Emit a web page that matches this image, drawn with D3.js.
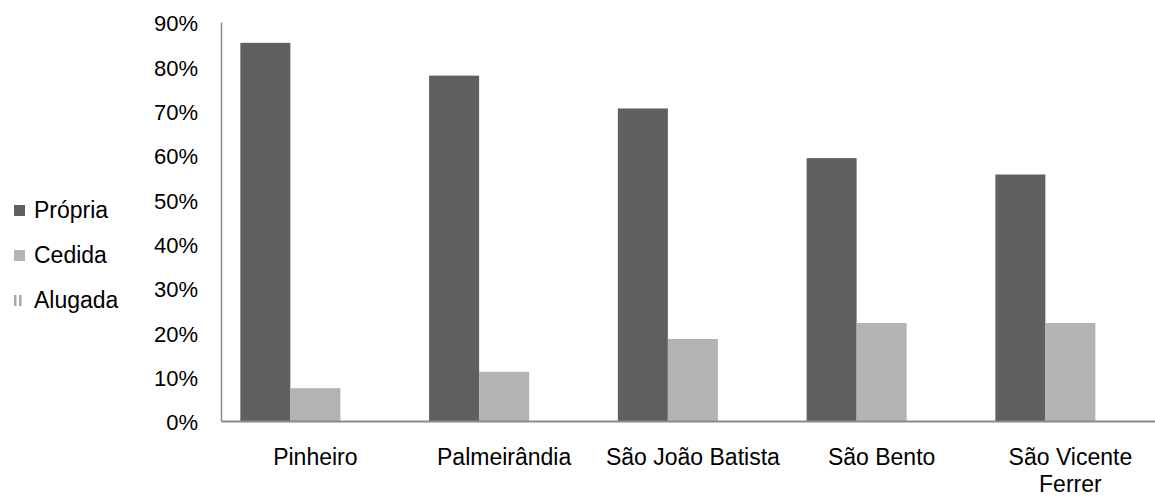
<!DOCTYPE html>
<html>
<head>
<meta charset="utf-8">
<script src="https://cdn.jsdelivr.net/npm/d3@7"></script>
<style>
  html, body { margin: 0; padding: 0; background: #fff; }
  svg { display: block; }
  text { font-family: "Liberation Sans", Arial, sans-serif; fill: #000; }
</style>
</head>
<body>
<svg id="chart" width="1155" height="498"></svg>
<script>
const categories = ["Pinheiro", "Palmeirândia", "São João Batista", "São Bento", "São Vicente Ferrer"];
const seriesNames = ["Própria", "Cedida", "Alugada"];
const propria = [0.853, 0.779, 0.705, 0.593, 0.556];
const cedida  = [0.074, 0.111, 0.185, 0.221, 0.221];
const alugada = [0, 0, 0, 0, 0];
const yTicks = [0, 0.1, 0.2, 0.3, 0.4, 0.5, 0.6, 0.7, 0.8, 0.9];
const colors = ["#606060", "#b3b3b3", "#d0d0d0"];

const seriesValues = [propria, cedida, alugada];
const data = categories.map((c, i) => ({
  cat: c,
  values: seriesNames.map((s, j) => ({ key: s, value: seriesValues[j][i], idx: j }))
}));

const svg = d3.select("#chart");
const x0 = 221, yTop = 22, yBase = 421;
const fs = 23;

const x = d3.scaleBand().domain(categories)
  .range([x0, x0 + 943.75]).paddingInner(0.205).paddingOuter(0.1025);
const xs = d3.scaleBand().domain(seriesNames).range([0, x.bandwidth()]);
const y = d3.scaleLinear().domain([0, 0.9]).range([yBase, yTop]);

// bars
const groups = svg.append("g").selectAll("g").data(data).join("g")
  .attr("transform", d => `translate(${x(d.cat)},0)`);
groups.selectAll("rect").data(d => d.values.filter(v => v.value > 0)).join("rect")
  .attr("x", v => xs(v.key))
  .attr("width", xs.bandwidth())
  .attr("y", v => y(v.value))
  .attr("height", v => yBase - y(v.value))
  .attr("fill", v => colors[v.idx]);

// y axis
const yAxis = d3.axisLeft(y).tickValues(yTicks).tickSize(0).tickPadding(23)
  .tickFormat(d3.format(".0%"));
const gy = svg.append("g").attr("transform", `translate(${x0},0)`).call(yAxis);
gy.select(".domain").attr("stroke", "#8a8a8a").attr("stroke-width", 1.5);
gy.selectAll("text").attr("font-size", 22).attr("dy", "0.4em")
  .style("font-family", "'Liberation Sans', Arial, sans-serif").attr("fill", "#000");

// x axis
const xAxis = d3.axisBottom(x).tickSize(0).tickPadding(0).tickFormat("");
const gx = svg.append("g").attr("transform", `translate(0,${yBase})`).call(xAxis);
gx.select(".domain").attr("stroke", "#8a8a8a").attr("stroke-width", 2);

// category labels (wrap last)
const labelG = svg.append("g");
categories.forEach(c => {
  const cx = x(c) + x.bandwidth() / 2;
  let lines = [c];
  if (c === "São Vicente Ferrer") lines = ["São Vicente", "Ferrer"];
  lines.forEach((ln, k) => {
    labelG.append("text").attr("x", cx).attr("y", 465 + k * 27)
      .attr("text-anchor", "middle").attr("font-size", fs).text(ln);
  });
});

// legend
const leg = svg.append("g");
const legY = [218, 263, 308];
seriesNames.forEach((s, i) => {
  const by = legY[i];
  if (i < 2) {
    leg.append("rect").attr("x", 14).attr("y", by - 13).attr("width", 11).attr("height", 11)
      .attr("fill", colors[i]);
  } else {
    [14, 19].forEach(lx => leg.append("rect").attr("x", lx).attr("y", by - 13)
      .attr("width", 2.5).attr("height", 11).attr("fill", "#a8a8a8"));
  }
  leg.append("text").attr("x", 34).attr("y", by).attr("font-size", fs).text(s);
});
</script>
</body>
</html>
